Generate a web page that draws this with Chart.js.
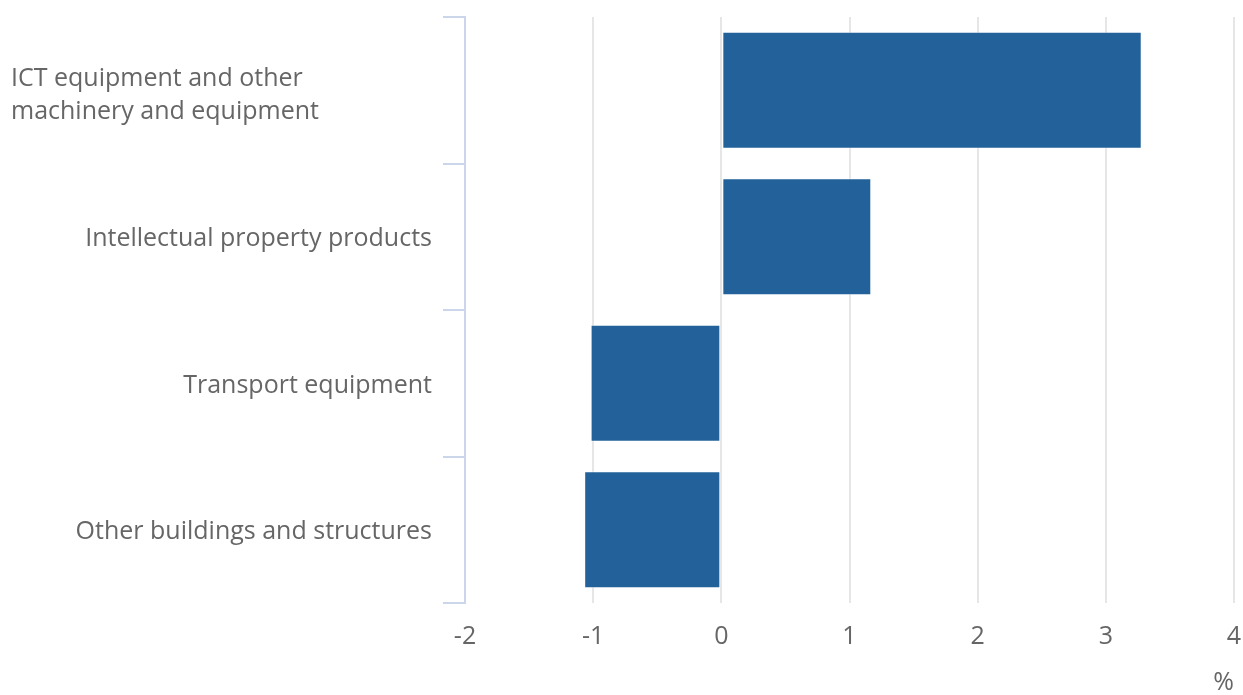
<!DOCTYPE html>
<html>
<head>
<meta charset="utf-8">
<script src="https://cdn.jsdelivr.net/npm/chart.js@4"></script>
<style>
  html, body { margin: 0; padding: 0; background: #ffffff; }
  #wrap { width: 1243px; height: 695px; }
</style>
</head>
<body>
<div id="wrap"><canvas id="bar_chart" width="1243" height="695"></canvas></div>
<script>
//----------------------------------------
//--- Data
//----------------------------------------

var categories = [
    ['ICT equipment and other', 'machinery and equipment'],
    'Intellectual property products',
    'Transport equipment',
    'Other buildings and structures'];

var contributions = [3.28, 1.17, -1.02, -1.07];

var x_ticks = [-2, -1, 0, 1, 2, 3, 4];

var unit_label = '%';

//----------------------------------------
//--- Category labels (one wrapped label is left aligned)
//----------------------------------------

var category_labels = {
    id: 'category_labels',
    afterDraw: function(chart) {
        var ctx = chart.ctx, y = chart.scales.y;
        ctx.save();
        ctx.font = '25px "Open Sans"';
        ctx.fillStyle = '#666666';
        ctx.textBaseline = 'middle';
        categories.forEach(function(label, i) {
            var cy = y.getPixelForValue(i);
            if (Array.isArray(label)) {
                ctx.textAlign = 'left';
                label.forEach(function(line, j) {
                    ctx.fillText(line, 11, cy + 5 + (j - (label.length - 1) / 2) * 33);
                });
            } else {
                ctx.textAlign = 'right';
                ctx.fillText(label, y.right - 33, cy + 2.5);
            }
        });
        ctx.restore();
    }
};

//----------------------------------------
//--- Horizontal barchart
//----------------------------------------

var bar_chart = new Chart(document.getElementById('bar_chart').getContext('2d'), {
    type: 'bar',
    data: {
        labels: categories.map(function(c) { return Array.isArray(c) ? c.join(' ') : c; }),
        datasets: [{
            label: 'Contribution', data: contributions,
            backgroundColor: '#22619a', borderColor: 'rgba(255, 255, 255, 0.6)', borderWidth: 1,
            borderSkipped: false, barPercentage: 0.8, categoryPercentage: 1
        }]
    },
    options: {
        responsive: false, animation: false, indexAxis: 'y',
        layout: {padding: {top: 17, right: 9, bottom: 0, left: 0}},
        plugins: {legend: {display: false}, tooltip: {enabled: false}},
        scales: {
            x: {
                min: x_ticks[0], max: x_ticks[x_ticks.length - 1],
                afterFit: function(scale) {
                    scale.height = 92;
                    scale.paddingLeft = 0;
                    scale.paddingRight = 0;
                },
                afterBuildTicks: function(scale) {
                    scale.ticks = x_ticks.map(function(v) { return {value: v}; });
                },
                grid: {color: '#e6e6e6', lineWidth: 2, drawTicks: false},
                border: {display: false},
                ticks: {font: {family: 'Open Sans', size: 25}, color: '#666666', padding: 19},
                title: {
                    display: true, text: unit_label, align: 'end', padding: {top: 0, bottom: -3},
                    font: {family: 'Open Sans', size: 25}, color: '#666666'
                }
            },
            y: {
                afterFit: function(scale) { scale.width = 465; },
                grid: {
                    offset: true, drawOnChartArea: false, drawTicks: true,
                    tickLength: 22, color: '#ccd6eb', lineWidth: 2
                },
                border: {display: true, color: '#ccd6eb', width: 2},
                ticks: {display: false}
            }
        }
    },
    plugins: [category_labels]
});
</script>
</body>
</html>
